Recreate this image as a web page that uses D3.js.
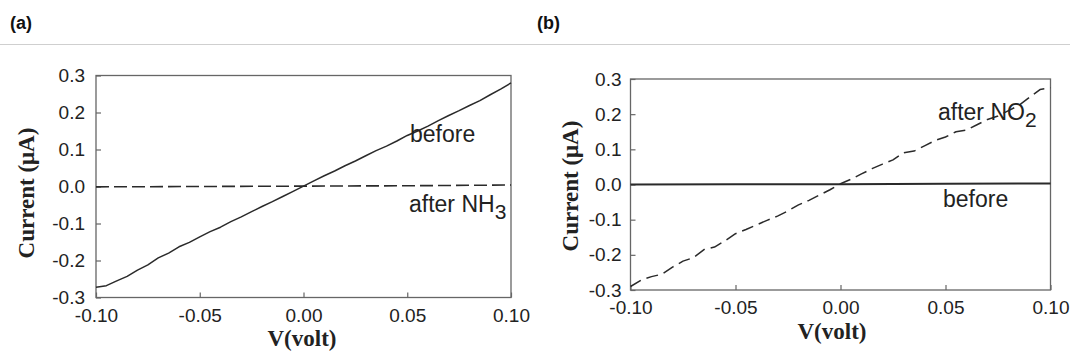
<!DOCTYPE html>
<html>
<head>
<meta charset="utf-8">
<script src="https://cdn.jsdelivr.net/npm/d3@7"></script>
<style>
  html, body { margin: 0; padding: 0; background: #fff; }
  svg { display: block; }
</style>
</head>
<body>
<svg id="chart" width="1070" height="358"></svg>
<script>
// ---------- DATA ----------
const volts = [-0.100,-0.095,-0.090,-0.085,-0.080,-0.075,-0.070,-0.065,-0.060,-0.055,
               -0.050,-0.045,-0.040,-0.035,-0.030,-0.025,-0.020,-0.015,-0.010,-0.005,
                0.000, 0.005, 0.010, 0.015, 0.020, 0.025, 0.030, 0.035, 0.040, 0.045,
                0.050, 0.055, 0.060, 0.065, 0.070, 0.075, 0.080, 0.085, 0.090, 0.095, 0.100];

// Panel (a): before exposure (solid) and after NH3 (dashed, flat)
const currentBeforeA = [-0.272,-0.268,-0.255,-0.243,-0.226,-0.212,-0.193,-0.180,-0.163,-0.151,
                        -0.136,-0.122,-0.110,-0.095,-0.082,-0.068,-0.054,-0.041,-0.027,-0.013,
                         0.001, 0.015, 0.029, 0.042, 0.056, 0.069, 0.083, 0.097, 0.109, 0.123,
                         0.138, 0.150, 0.163, 0.178, 0.192, 0.205, 0.219, 0.232, 0.248, 0.263, 0.280];
const voltsFlat = [-0.100, -0.050, 0.000, 0.050, 0.100];
const currentAfterNH3 = [-0.001, 0.000, 0.001, 0.002, 0.004];

// Panel (b): before exposure (solid, flat) and after NO2 (dashed)
const currentBeforeB = [0.000, 0.001, 0.001, 0.002, 0.003];
const currentAfterNO2 = [-0.290,-0.272,-0.262,-0.255,-0.235,-0.218,-0.208,-0.185,-0.178,-0.160,
                         -0.140,-0.128,-0.115,-0.102,-0.090,-0.075,-0.058,-0.045,-0.030,-0.015,
                          0.002, 0.015, 0.030, 0.045, 0.058, 0.070, 0.090, 0.095, 0.110, 0.125,
                          0.135, 0.150, 0.155, 0.170, 0.185, 0.195, 0.210, 0.225, 0.248, 0.270, 0.275];

const xTicks = [-0.10, -0.05, 0.00, 0.05, 0.10];
const xTickLabels = ["-0.10", "-0.05", "0.00", "0.05", "0.10"];
const yTicks = [-0.3, -0.2, -0.1, 0.0, 0.1, 0.2, 0.3];
const yTickLabels = ["-0.3", "-0.2", "-0.1", "0.0", "0.1", "0.2", "0.3"];

const panelLetters = ["(a)", "(b)"];
const xTitle = "V(volt)";
const yTitle = "Current (μA)";

// ---------- DRAW ----------
const svg = d3.select("#chart");
const textColor = "#222";
const frameColor = "#666";
const lineColor = "#2a2a2a";

// header
svg.append("line").attr("x1", 0).attr("x2", 1070).attr("y1", 44.5).attr("y2", 44.5)
  .attr("stroke", "#cfcfcf").attr("stroke-width", 1);
svg.append("text").attr("x", 10).attr("y", 29).text(panelLetters[0])
  .attr("font-family", "Liberation Sans, Arial, sans-serif").attr("font-weight", "bold")
  .attr("font-size", 18).attr("fill", "#111");
svg.append("text").attr("x", 537).attr("y", 29).text(panelLetters[1])
  .attr("font-family", "Liberation Sans, Arial, sans-serif").attr("font-weight", "bold")
  .attr("font-size", 18).attr("fill", "#111");

function drawPanel(cfg) {
  const x = d3.scaleLinear().domain([-0.1, 0.1]).range([cfg.left, cfg.right]);
  const y = d3.scaleLinear().domain([-0.3, 0.3]).range([cfg.bottom, cfg.top]);
  const g = svg.append("g");

  g.append("rect").attr("x", cfg.left).attr("y", cfg.top)
    .attr("width", cfg.right - cfg.left).attr("height", cfg.bottom - cfg.top)
    .attr("fill", "none").attr("stroke", frameColor).attr("stroke-width", 1.3);

  const yAxis = d3.axisLeft(y).tickValues(yTicks)
    .tickFormat((d, i) => yTickLabels[i]).tickSizeInner(-5).tickSizeOuter(0).tickPadding(cfg.yPad);
  const gy = g.append("g").attr("transform", `translate(${cfg.left},0)`).call(yAxis);
  const xAxis = d3.axisBottom(x).tickValues(xTicks)
    .tickFormat((d, i) => xTickLabels[i]).tickSizeInner(-5).tickSizeOuter(0).tickPadding(cfg.xPad);
  const gx = g.append("g").attr("transform", `translate(0,${cfg.bottom})`).call(xAxis);
  [gx, gy].forEach(a => {
    a.select(".domain").remove();
    a.selectAll(".tick line").attr("stroke", frameColor).attr("stroke-width", 1.2);
    a.selectAll(".tick text").attr("fill", textColor)
      .attr("font-family", "Liberation Sans, Arial, sans-serif").attr("font-size", 19);
  });

  g.append("text").attr("transform", `translate(${cfg.yTitleX},${cfg.yTitleY}) rotate(-90)`)
    .attr("text-anchor", "middle").attr("dominant-baseline", "middle")
    .attr("font-family", "Liberation Serif, Times New Roman, serif").attr("font-weight", "bold")
    .attr("font-size", 23).attr("fill", textColor).text(yTitle);
  g.append("text").attr("x", cfg.xTitleX).attr("y", cfg.xTitleY)
    .attr("text-anchor", "middle")
    .attr("font-family", "Liberation Serif, Times New Roman, serif").attr("font-weight", "bold")
    .attr("font-size", 23).attr("fill", textColor).text(xTitle);

  const line = d3.line().x(d => x(d[0])).y(d => y(d[1]));
  cfg.series.forEach(s => {
    g.append("path").datum(s.xs.map((v, i) => [v, s.ys[i]]))
      .attr("d", line).attr("fill", "none").attr("stroke", lineColor)
      .attr("stroke-width", s.width).attr("stroke-dasharray", s.dash || null)
      .attr("stroke-linejoin", "round");
  });

  cfg.labels.forEach(l => {
    const t = g.append("text").attr("x", l.x).attr("y", l.y)
      .attr("font-family", "Liberation Sans, Arial, sans-serif").attr("font-size", 23)
      .attr("fill", textColor).text(l.text);
    if (l.sub) {
      t.append("tspan").attr("dy", 7).attr("font-size", 21).text(l.sub);
    }
  });
}

drawPanel({
  left: 96, right: 511, top: 75.5, bottom: 297.5, yPad: 11, xPad: 11,
  yTitleX: 28.5, yTitleY: 193, xTitleX: 302, xTitleY: 346,
  series: [
    { xs: volts, ys: currentBeforeA, width: 1.5 },
    { xs: voltsFlat, ys: currentAfterNH3, width: 1.6, dash: "13,5" }
  ],
  labels: [
    { x: 410, y: 142, text: "before" },
    { x: 409, y: 212, text: "after NH", sub: "3" }
  ]
});

drawPanel({
  left: 630.5, right: 1050.5, top: 79, bottom: 290, yPad: 9, xPad: 11,
  yTitleX: 572.5, yTitleY: 186, xTitleX: 832, xTitleY: 339,
  series: [
    { xs: voltsFlat, ys: currentBeforeB, width: 2 },
    { xs: volts, ys: currentAfterNO2, width: 1.5, dash: "12,6" }
  ],
  labels: [
    { x: 938, y: 120, text: "after NO", sub: "2" },
    { x: 943, y: 207, text: "before" }
  ]
});
</script>
</body>
</html>
